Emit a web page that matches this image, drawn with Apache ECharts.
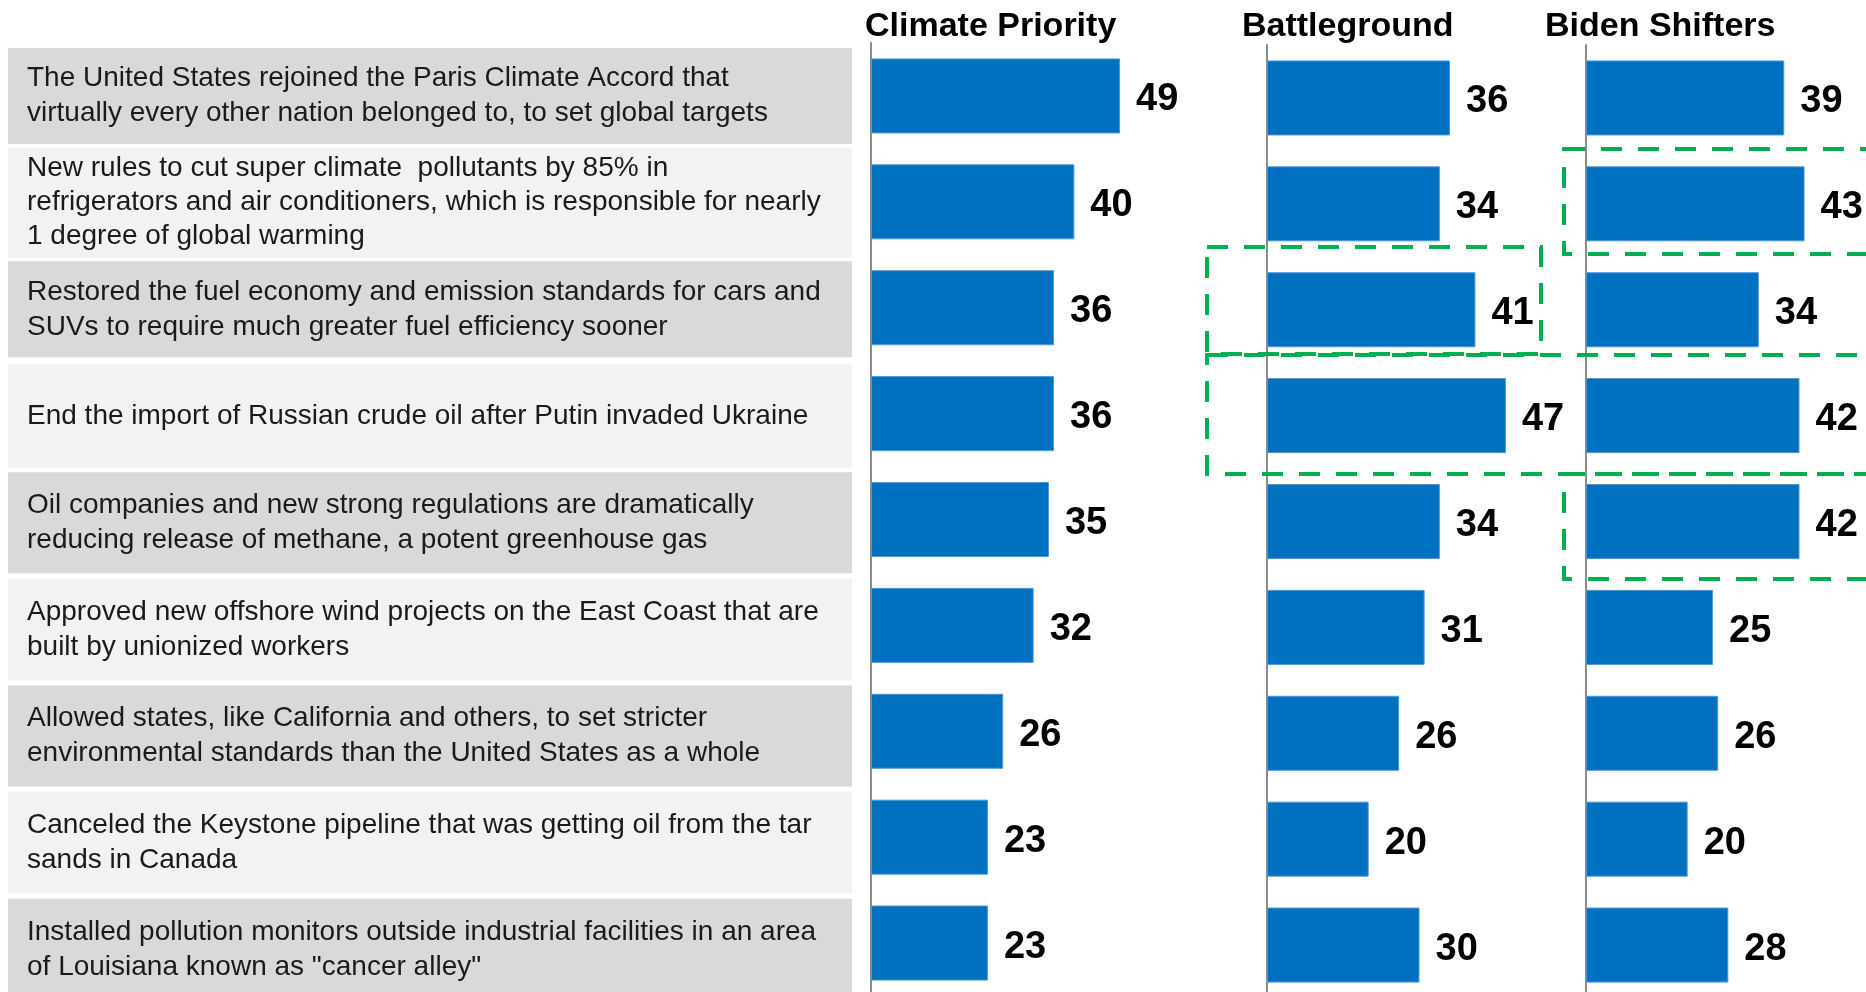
<!DOCTYPE html>
<html>
<head>
<meta charset="utf-8">
<title>Climate actions by audience</title>
<script src="https://cdn.jsdelivr.net/npm/echarts@6.0.0/dist/echarts.min.js"></script>
<style>
  html, body { margin: 0; padding: 0; background: #fff; }
  #chart { width: 1866px; height: 992px; }
</style>
</head>
<body>
<div id="chart"></div>
<script>
var statements = [
  'The United States rejoined the Paris Climate Accord that\nvirtually every other nation belonged to, to set global targets',
  'New rules to cut super climate  pollutants by 85% in\nrefrigerators and air conditioners, which is responsible for nearly\n1 degree of global warming',
  'Restored the fuel economy and emission standards for cars and\nSUVs to require much greater fuel efficiency sooner',
  'End the import of Russian crude oil after Putin invaded Ukraine',
  'Oil companies and new strong regulations are dramatically\nreducing release of methane, a potent greenhouse gas',
  'Approved new offshore wind projects on the East Coast that are\nbuilt by unionized workers',
  'Allowed states, like California and others, to set stricter\nenvironmental standards than the United States as a whole',
  'Canceled the Keystone pipeline that was getting oil from the tar\nsands in Canada',
  'Installed pollution monitors outside industrial facilities in an area\nof Louisiana known as "cancer alley"'
]
var groupNames = ['Climate Priority', 'Battleground', 'Biden Shifters']
var climatePriority = [49, 40, 36, 36, 35, 32, 26, 23, 23]
var battleground = [36, 34, 41, 47, 34, 31, 26, 20, 30]
var bidenShifters = [39, 43, 34, 42, 42, 25, 26, 20, 28]

// layout only
var rowHeights = [96, 110, 96, 103, 101, 101, 101, 101, 101]
var barGrids = [
  { left: 871, top: 43, titleLeft: 865 },
  { left: 1267, top: 45, titleLeft: 1242 },
  { left: 1586, top: 45, titleLeft: 1545 }
]
// green dashed highlight boxes (annotations drawn on top)
var boxes = [
  { x: 1207, y: 247, w: 334, h: 107 },
  { x: 1207, y: 355, w: 700, h: 119 },
  { x: 1564, y: 149, w: 340, h: 105 },
  { x: 1564, y: 474, w: 340, h: 105 }
]

var font = '"Liberation Sans", Arial, Helvetica, sans-serif'

var labelData = statements.map(function (text, i) {
  var lines = text.split('\n').length
  var lh = lines === 3 ? 34 : 35
  var pad = (rowHeights[i] - lines * lh) / 2
  return {
    value: text,
    textStyle: {
      backgroundColor: i % 2 === 0 ? '#d9d9d9' : '#f2f2f2',
      lineHeight: lh,
      padding: [pad, 0, pad, 19],
      width: 825
    }
  }
})

var seriesValues = [climatePriority, battleground, bidenShifters]

var grid = [{ left: 0, width: 8, top: 42.7, height: 960, outerBoundsMode: 'none' }]
var xAxis = [{ gridIndex: 0, type: 'value', show: false }]
var yAxis = [{
  gridIndex: 0,
  type: 'category',
  position: 'right',
  inverse: true,
  data: labelData,
  axisLine: { show: false },
  axisTick: { show: false },
  axisLabel: {
    interval: 0,
    margin: 0,
    align: 'left',
    fontFamily: font,
    fontSize: 28,
    color: '#1a1a1a'
  }
}]
var title = []
var series = []

barGrids.forEach(function (g, k) {
  var idx = k + 1
  grid.push({ left: g.left, top: g.top, width: 305, height: 953, outerBoundsMode: 'none' })
  xAxis.push({ gridIndex: idx, type: 'value', min: 0, max: 60, show: false })
  yAxis.push({
    gridIndex: idx,
    type: 'category',
    inverse: true,
    data: statements,
    axisLine: { show: true, lineStyle: { color: '#8c8c8c', width: 2 } },
    axisTick: { show: false },
    axisLabel: { show: false },
    splitLine: { show: false }
  })
  title.push({
    text: groupNames[k],
    left: g.titleLeft,
    top: 10,
    padding: 0,
    textStyle: { fontFamily: font, fontSize: 34, fontWeight: 'bold', color: '#000' }
  })
  series.push({
    name: groupNames[k],
    type: 'bar',
    xAxisIndex: idx,
    yAxisIndex: idx,
    data: seriesValues[k],
    barWidth: 75,
    itemStyle: { color: '#0070C0', borderColor: '#4f96d6', borderWidth: 1 },
    label: {
      show: true,
      position: 'right',
      distance: 16,
      offset: [0, 4],
      fontFamily: font,
      fontSize: 38,
      fontWeight: 'bold',
      color: '#000'
    }
  })
})

var myChart = echarts.init(document.getElementById('chart'))
myChart.setOption({
  animation: false,
  backgroundColor: '#fff',
  textStyle: { fontFamily: font },
  title: title,
  grid: grid,
  xAxis: xAxis,
  yAxis: yAxis,
  series: series,
  graphic: boxes.map(function (b) {
    return {
      type: 'rect',
      silent: true,
      z: 100,
      shape: { x: b.x, y: b.y, width: b.w, height: b.h },
      style: { fill: 'none', stroke: '#00B050', lineWidth: 4, lineDash: [21, 16] }
    }
  })
})
</script>
</body>
</html>
